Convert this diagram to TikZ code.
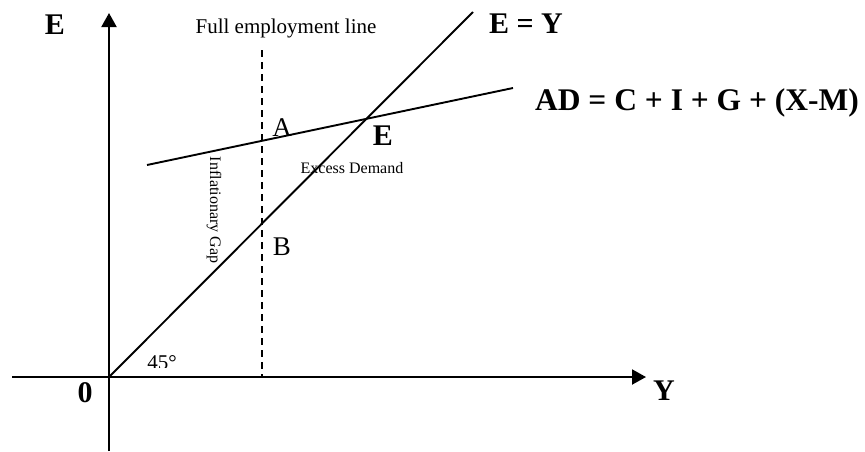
\documentclass[tikz,border=0pt]{standalone}
\usepackage{fontspec}
\setmainfont{Liberation Serif}
\usetikzlibrary{arrows.meta}
\begin{document}
\begin{tikzpicture}[x=1pt,y=-1pt,
  axis/.style={line width=2pt,-{Triangle[length=14pt,width=15pt]}},
  curve/.style={line width=1.9pt},
  fel/.style={line width=1.9pt,dash pattern=on 7pt off 5pt},
  biglbl/.style={font=\fontsize{30}{36}\selectfont\bfseries,inner sep=0pt,anchor=base},
  ptlbl/.style={font=\fontsize{27}{32}\selectfont,inner sep=0pt,anchor=base},
  midlbl/.style={font=\fontsize{21}{25}\selectfont,inner sep=0pt,anchor=base},
  smalllbl/.style={font=\fontsize{16}{19}\selectfont,inner sep=0pt}]
\useasboundingbox (0,0) rectangle (865,451);
% coordinates
\coordinate (O) at (109,377);
\coordinate (ytop) at (109,13);
\coordinate (ybot) at (109,451);
\coordinate (xleft) at (12,377);
\coordinate (xright) at (646,377);
\coordinate (eyTop) at (473,12);
\coordinate (adL) at (147,165);
\coordinate (adR) at (513,88);
\coordinate (fT) at (262,50);
\coordinate (fB) at (262,377);
% 45 degree label (partly hidden by the axis)
\begin{scope}
\clip (130,340) rectangle (200,367);
\node[midlbl,anchor=base] (deg) at (162,369) {45°};
\end{scope}
% axes
\draw[axis] (ybot) -- (ytop);
\draw[axis] (xleft) -- (xright);
% lines
\draw[curve] (O) -- (eyTop);
\draw[curve] (adL) -- (adR);
\draw[fel] (fT) -- (fB);
% labels
\node[biglbl] (Elbl) at (55,34) {E};
\node[midlbl] (full) at (286,33) {Full employment line};
\node[biglbl] (EY) at (526,33) {E = Y};
\node[biglbl,font=\fontsize{31.5}{36}\selectfont\bfseries] (AD) at (697,110) {AD = C + I + G + (X-M)};
\node[ptlbl] (A) at (282,136) {A};
\node[biglbl] (E) at (383,145) {E};
\node[smalllbl,anchor=base] (ex) at (352,173) {Excess Demand};
\node[smalllbl,rotate=-90] (gap) at (214,210) {Inflationary Gap};
\node[ptlbl] (B) at (282,255) {B};
\node[biglbl] (zero) at (85,402) {0};
\node[biglbl] (Y) at (664,400) {Y};
\end{tikzpicture}
\end{document}
